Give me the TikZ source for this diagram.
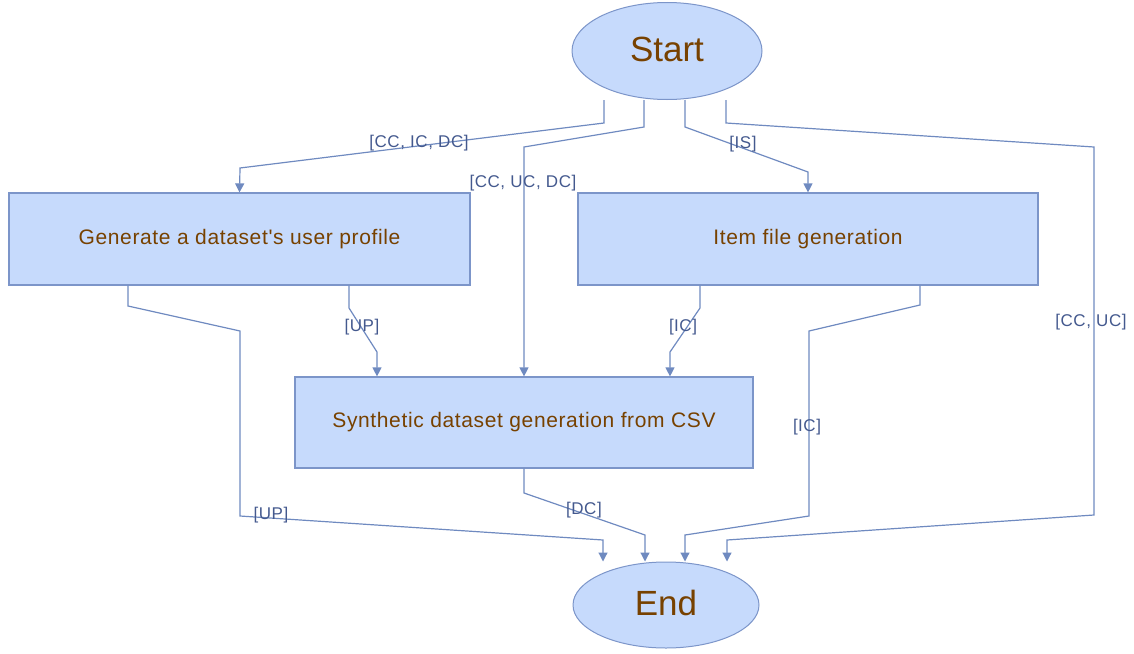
\documentclass[tikz,border=0pt]{standalone}
\usepackage{fontspec}
\setmainfont{Liberation Sans}
\newfontfamily\spaced[LetterSpace=3]{Liberation Sans}
\usetikzlibrary{shapes.geometric,arrows.meta}
\definecolor{boxfill}{HTML}{C6DAFC}
\definecolor{boxline}{HTML}{7C95C9}
\definecolor{conn}{HTML}{6F8AC0}
\definecolor{brown}{HTML}{774100}
\definecolor{lab}{HTML}{44598E}
\tikzset{
  term/.style={ellipse, draw=boxline, fill=boxfill, line width=1pt, inner sep=0pt,
    text=brown, font=\fontsize{35}{38}\selectfont},
  proc/.style={rectangle, draw=boxline, fill=boxfill, line width=1.2pt, inner sep=0pt,
    minimum height=92pt, text=brown, font=\spaced\fontsize{21}{24}\selectfont},
  link/.style={draw=conn, line width=1.2pt, -{Triangle[width=9pt,length=9pt]}},
  tag/.style={text=lab, font=\spaced\fontsize{17}{19}\selectfont, inner sep=0pt}
}
\begin{document}
\begin{tikzpicture}[x=1pt,y=-1pt]
\useasboundingbox (0,0) rectangle (1134,653);
\node[term, minimum width=190pt, minimum height=97pt] (st) at (667,51) {\raisebox{3pt}{Start}};
\node[term, minimum width=186pt, minimum height=86pt] (en) at (666,605) {\raisebox{4pt}{End}};
\node[proc, minimum width=461pt] (b1) at (239.5,239) {\raisebox{3pt}{Generate a dataset's user profile}};
\node[proc, minimum width=460pt] (b2) at (808,239) {\raisebox{3pt}{Item file generation}};
\node[proc, minimum width=458pt, minimum height=91pt] (b3) at (524,422.5) {\raisebox{3pt}{Synthetic dataset generation from CSV}};
% bend points
\coordinate (a1) at (604,123); \coordinate (a2) at (240,168);
\coordinate (c1) at (644,127); \coordinate (c2) at (524,147);
\coordinate (d1) at (685,127); \coordinate (d2) at (808,172);
\coordinate (e1) at (726,123); \coordinate (e2) at (1094,147);
\coordinate (e3) at (1094,515); \coordinate (e4) at (727,540);
\coordinate (f1) at (128,306); \coordinate (f2) at (240,331);
\coordinate (f3) at (240,516); \coordinate (f4) at (603,540);
\coordinate (g1) at (349,308); \coordinate (g2) at (377,352);
\coordinate (h1) at (700,308); \coordinate (h2) at (670,352);
\coordinate (i1) at (920,305); \coordinate (i2) at (809,331);
\coordinate (i3) at (809,516); \coordinate (i4) at (685,535);
\coordinate (j1) at (524,493); \coordinate (j2) at (645,535);
% connectors from Start
\draw[link] (st.south -| a1) -- (a1) -- (a2) -- (b1.north);
\draw[link] (st.south -| c1) -- (c1) -- (c2) -- (b3.north);
\draw[link] (st.south -| d1) -- (d1) -- (d2) -- (b2.north);
\draw[link] (st.south -| e1) -- (e1) -- (e2) -- (e3) -- (e4) -- (en.north -| e4);
% connectors from boxes
\draw[link] (b1.south -| f1) -- (f1) -- (f2) -- (f3) -- (f4) -- (en.north -| f4);
\draw[link] (b1.south -| g1) -- (g1) -- (g2) -- (b3.north -| g2);
\draw[link] (b2.south -| h1) -- (h1) -- (h2) -- (b3.north -| h2);
\draw[link] (b2.south -| i1) -- (i1) -- (i2) -- (i3) -- (i4) -- (en.north -| i4);
\draw[link] (b3.south -| j1) -- (j1) -- (j2) -- (en.north -| j2);
% labels
\node[tag] (l1) at (419,143) {[CC, IC, DC]};
\node[tag] (l2) at (523,183) {[CC, UC, DC]};
\node[tag] (l3) at (743,144) {[IS]};
\node[tag] (l4) at (1091,322) {[CC, UC]};
\node[tag] (l5) at (271,515) {[UP]};
\node[tag] (l6) at (362,327) {[UP]};
\node[tag] (l7) at (683,327) {[IC]};
\node[tag] (l8) at (807,427) {[IC]};
\node[tag] (l9) at (584,510) {[DC]};
\end{tikzpicture}
\end{document}
